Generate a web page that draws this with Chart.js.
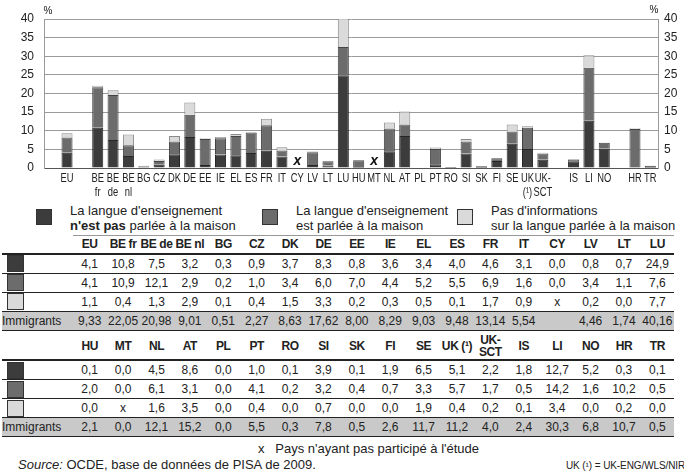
<!DOCTYPE html>
<html>
<head>
<meta charset="utf-8">
<script src="https://cdn.jsdelivr.net/npm/chart.js@4/dist/chart.umd.min.js"></script>
<style>
  body { margin: 0; background: #fff; font-family: 'Liberation Sans', Arial, sans-serif; color: #222; }
  #wrap { position: relative; width: 684px; height: 474px; overflow: hidden; }
  #c { position: absolute; left: 0; top: 0; }
  .leg { position: absolute; top: 203px; font-size: 13px; line-height: 15px; }
  .leg .sw { position: absolute; left: 0; top: 6px; width: 14px; height: 14px; border: 1px solid #333; }
  .leg .tx { position: absolute; left: 34px; top: 0; white-space: nowrap; }
  table { position: absolute; left: 2px; border-collapse: collapse; table-layout: fixed; font-size: 12px; }
  td, th { padding: 0; text-align: center; white-space: nowrap; }
  th { font-weight: bold; line-height: 12px; letter-spacing: -0.4px; }
  td.first, th.first { text-align: left; }
  tr.head th { border-bottom: 2px solid #222; }
  tr.head th.top { border-top: 1px solid #999; }
  tr.val td { height: 18px; border-bottom: 1px solid #222; }
  tr.imm td { height: 18px; background: #c9c9c9; border-bottom: 1px solid #222; }
  .cell-sw { display: inline-block; width: 15px; height: 15px; border: 1px solid #333; margin-left: 5px; vertical-align: middle; }
  .foot { position: absolute; font-size: 13px; white-space: nowrap; }
</style>
</head>
<body>
<div id="wrap">
  <canvas id="c" width="684" height="200"></canvas>
  <div id="legend"></div>
  <table id="t1" style="top:235px"></table>
  <table id="t2" style="top:333px"></table>
  <div class="foot" style="left:258px; top:441px;">x&nbsp;&nbsp;&nbsp;Pays n'ayant pas participé à l'étude</div>
  <div class="foot" style="left:18px; top:457px;"><i>Source:</i> OCDE, base de données de PISA de 2009.</div>
  <div class="foot" style="left:566px; top:460px; font-size:10px; letter-spacing:-0.1px;">UK (¹) = UK-ENG/WLS/NIR</div>
</div>
<script>
// countries, as in the two table blocks
const countries1 = ['EU', 'BE fr', 'BE de', 'BE nl', 'BG', 'CZ', 'DK', 'DE', 'EE', 'IE', 'EL', 'ES', 'FR', 'IT', 'CY', 'LV', 'LT', 'LU'];
const countries2 = ['HU', 'MT', 'NL', 'AT', 'PL', 'PT', 'RO', 'SI', 'SK', 'FI', 'SE', 'UK (¹)', 'UK-SCT', 'IS', 'LI', 'NO', 'HR', 'TR'];

// % of pupils (null = country not in the study)
const notSpoken1 = [4.1, 10.8, 7.5, 3.2, 0.3, 0.9, 3.7, 8.3, 0.8, 3.6, 3.4, 4.0, 4.6, 3.1, 0.0, 0.8, 0.7, 24.9];
const spoken1    = [4.1, 10.9, 12.1, 2.9, 0.2, 1.0, 3.4, 6.0, 7.0, 4.4, 5.2, 5.5, 6.9, 1.6, 0.0, 3.4, 1.1, 7.6];
const noInfo1    = [1.1, 0.4, 1.3, 2.9, 0.1, 0.4, 1.5, 3.3, 0.2, 0.3, 0.5, 0.1, 1.7, 0.9, null, 0.2, 0.0, 7.7];
const immigrants1 = [9.33, 22.05, 20.98, 9.01, 0.51, 2.27, 8.63, 17.62, 8.00, 8.29, 9.03, 9.48, 13.14, 5.54, null, 4.46, 1.74, 40.16];

const notSpoken2 = [0.1, 0.0, 4.5, 8.6, 0.0, 1.0, 0.1, 3.9, 0.1, 1.9, 6.5, 5.1, 2.2, 1.8, 12.7, 5.2, 0.3, 0.1];
const spoken2    = [2.0, 0.0, 6.1, 3.1, 0.0, 4.1, 0.2, 3.2, 0.4, 0.7, 3.3, 5.7, 1.7, 0.5, 14.2, 1.6, 10.2, 0.5];
const noInfo2    = [0.0, null, 1.6, 3.5, 0.0, 0.4, 0.0, 0.7, 0.0, 0.0, 1.9, 0.4, 0.2, 0.1, 3.4, 0.0, 0.2, 0.0];
const immigrants2 = [2.1, 0.0, 12.1, 15.2, 0.0, 5.5, 0.3, 7.8, 0.5, 2.6, 11.7, 11.2, 4.0, 2.4, 30.3, 6.8, 10.7, 0.5];

// chart order: empty slots mark the gaps between groups
const chartOrder = ['', 'EU', '', 'BE fr', 'BE de', 'BE nl', 'BG', 'CZ', 'DK', 'DE', 'EE', 'IE', 'EL', 'ES', 'FR', 'IT', 'CY', 'LV', 'LT', 'LU',
  'HU', 'MT', 'NL', 'AT', 'PL', 'PT', 'RO', 'SI', 'SK', 'FI', 'SE', 'UK (¹)', 'UK-SCT', '', 'IS', 'LI', 'NO', '', 'HR', 'TR'];
const yTicks = [0, 5, 10, 15, 20, 25, 30, 35, 40];

const seriesNames = [
  ['La langue d\'enseignement', '<b>n\'est pas</b> parlée à la maison'],
  ['La langue d\'enseignement', 'est parlée à la maison'],
  ['Pas d\'informations', 'sur la langue parlée à la maison']
];
const colors = ['#3c3c3c', '#6c6c6c', '#dadada'];
const borders = ['#262626', '#444444', '#8a8a8a'];

const allCountries = countries1.concat(countries2);
const allSeries = [notSpoken1.concat(notSpoken2), spoken1.concat(spoken2), noInfo1.concat(noInfo2)];

function chartData(series) {
  return chartOrder.map(c => {
    if (c === '') return null;
    return series[allCountries.indexOf(c)];
  });
}
function tickLabel(c) {
  if (c.indexOf(' ') > 0) return c.split(' ');
  if (c.indexOf('-') > 0) return [c.slice(0, c.indexOf('-') + 1), c.slice(c.indexOf('-') + 1)];
  return [c];
}
const missing = chartOrder.map(c => c !== '' && allSeries[2][allCountries.indexOf(c)] === null);

const base = "'Liberation Sans', Arial, sans-serif";

// narrow x labels + 'x' marks + % signs
const marks = {
  id: 'marks',
  afterDraw(chart) {
    const { ctx, chartArea } = chart;
    const x = chart.scales.x, y = chart.scales.y;
    ctx.save();
    ctx.fillStyle = '#222';
    ctx.textAlign = 'center';
    ctx.textBaseline = 'middle';
    ctx.font = '13px ' + base;
    chart.data.labels.forEach((lines, i) => {
      const px = x.getPixelForValue(i);
      lines.forEach((t, k) => {
        ctx.save();
        ctx.translate(px, x.top + 10 + k * 14);
        ctx.scale(0.72, 1);
        ctx.fillText(t, 0, 0);
        ctx.restore();
      });
    });
    ctx.fillStyle = '#111';
    ctx.font = 'bold italic 14px ' + base;
    missing.forEach((m, i) => {
      if (m) ctx.fillText('x', x.getPixelForValue(i), y.getPixelForValue(0) - 7);
    });
    ctx.font = '10px ' + base;
    ctx.fillText('%', chartArea.left + 4, chartArea.top - 8);
    ctx.fillText('%', chartArea.right - 4, chartArea.top - 9);
    ctx.restore();
  }
};

const tickFont = { family: base, size: 12 };

new Chart(document.getElementById('c'), {
  type: 'bar',
  data: {
    labels: chartOrder.map(tickLabel),
    datasets: allSeries.map((s, i) => ({
      label: seriesNames[i].join(' '),
      data: chartData(s),
      backgroundColor: colors[i],
      borderColor: borders[i],
      borderWidth: 1,
      barPercentage: 0.72,
      categoryPercentage: 1
    }))
  },
  options: {
    responsive: false,
    animation: false,
    layout: { padding: { top: 19, left: 0, right: 0, bottom: 0 } },
    plugins: { legend: { display: false }, tooltip: { enabled: false } },
    scales: {
      x: {
        stacked: true,
        grid: { display: false, drawTicks: false },
        border: { color: '#555' },
        ticks: { display: false },
        afterFit(s) { s.height = 32; }
      },
      y: {
        stacked: true,
        position: 'left',
        min: 0, max: 40,
        afterBuildTicks(s) { s.ticks = yTicks.map(v => ({ value: v })); },
        ticks: { font: tickFont, color: '#222', padding: 10 },
        grid: { color: '#9a9a9a', drawTicks: false },
        border: { color: '#9a9a9a' },
        afterFit(s) { s.width = 44; }
      },
      y2: {
        position: 'right',
        min: 0, max: 40,
        afterBuildTicks(s) { s.ticks = yTicks.map(v => ({ value: v })); },
        ticks: { font: tickFont, color: '#222', padding: 6 },
        grid: { display: false, drawTicks: false },
        border: { color: '#9a9a9a' },
        afterFit(s) { s.width = 26; }
      }
    }
  },
  plugins: [marks]
});

// legend
const legLeft = [36, 262, 457];
document.getElementById('legend').innerHTML = seriesNames.map((n, i) =>
  '<div class="leg" style="left:' + legLeft[i] + 'px"><div class="sw" style="background:' + colors[i] + '"></div>' +
  '<div class="tx">' + n[0] + '<br>' + n[1] + '</div></div>').join('');

// tables
function fmt(v, d, blank) {
  if (v === null) return blank;
  return v.toFixed(d).replace('.', ',');
}
function buildTable(id, names, rows, imm, immDec, headH, topLine) {
  let h = '<colgroup><col style="width:71px">' + names.map(() => '<col style="width:33.4px">').join('') + '</colgroup>';
  const cls = topLine ? ' class="top"' : '';
  h += '<tr class="head"><th class="first" style="height:' + headH + 'px"></th>' +
    names.map(n => '<th' + cls + '>' + n.replace('-', '-<br>') + '</th>').join('') + '</tr>';
  rows.forEach((r, i) => {
    h += '<tr class="val"><td class="first"><span class="cell-sw" style="background:' + colors[i] + '"></span></td>' +
      r.map(v => '<td>' + fmt(v, 1, 'x') + '</td>').join('') + '</tr>';
  });
  h += '<tr class="imm"><td class="first">Immigrants</td>' + imm.map(v => '<td>' + fmt(v, immDec, '') + '</td>').join('') + '</tr>';
  document.getElementById(id).innerHTML = h;
}
buildTable('t1', countries1, [notSpoken1, spoken1, noInfo1], immigrants1, 2, 17, true);
buildTable('t2', countries2, [notSpoken2, spoken2, noInfo2], immigrants2, 1, 26, false);
</script>
</body>
</html>
